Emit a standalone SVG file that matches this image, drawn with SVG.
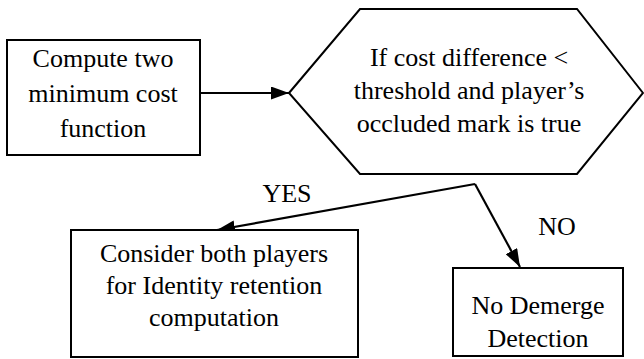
<svg xmlns="http://www.w3.org/2000/svg" width="644" height="359" viewBox="0 0 644 359">
<style>
.shape{fill:#fff;stroke:#000;stroke-width:2}
text{font-family:'Liberation Serif','Times New Roman',Times,serif;font-size:26px;fill:#000;text-anchor:middle}
.c{fill:none;stroke:#000;stroke-width:2.2}
</style>
<defs>
<marker id="ah" viewBox="0 0 18 13" refX="18" refY="6.5" markerWidth="18" markerHeight="13" markerUnits="userSpaceOnUse" orient="auto">
<path d="M0,0 L18,6.5 L0,13 z" fill="#000"/>
</marker>
</defs>
<rect width="644" height="359" fill="#fff"/>
<g id="connectors">
<line class="c" x1="200" y1="93" x2="289" y2="93" marker-end="url(#ah)"/>
<polyline class="c" points="475,184 217,230" marker-end="url(#ah)"/>
<polyline class="c" points="475,184 520,267" marker-end="url(#ah)"/>
<text x="287" y="202" font-family="Liberation Serif, serif">YES</text>
<text x="557" y="235" font-family="Liberation Serif, serif">NO</text>
</g>
<g id="compute" font-family="Liberation Serif, serif">
<rect class="shape" x="7" y="40" width="193" height="115"/>
<text x="103" y="67">Compute two</text>
<text x="103" y="102">minimum cost</text>
<text x="103" y="137">function</text>
</g>
<g id="decision">
<polygon class="shape" points="289,93 360,9 577,9 643,93 577,174 360,174"/>
<text x="469" y="66">If cost difference &lt;</text>
<text x="469" y="99">threshold and player’s</text>
<text x="469" y="132">occluded mark is true</text>
</g>
<g id="consider">
<rect class="shape" x="71" y="230" width="287" height="127"/>
<text x="214" y="262">Consider both players</text>
<text x="214" y="294">for Identity retention</text>
<text x="214" y="326">computation</text>
</g>
<g id="nodemerge">
<rect class="shape" x="453" y="268" width="170" height="88"/>
<text x="538" y="314">No Demerge</text>
<text x="538" y="347">Detection</text>
</g>
</svg>
